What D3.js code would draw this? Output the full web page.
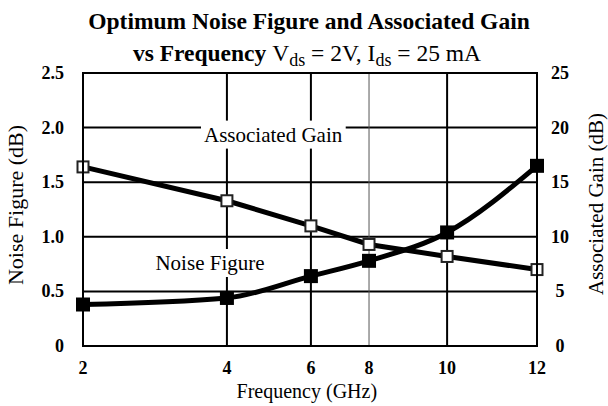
<!DOCTYPE html>
<html>
<head>
<meta charset="utf-8">
<script src="https://cdn.jsdelivr.net/npm/d3@7"></script>
<style>
  body { margin: 0; background: #fff; }
  svg { display: block; font-family: "Liberation Serif", "Times New Roman", serif; }
</style>
</head>
<body>
<div id="chart-area"></div>
<script>
// DATA -------------------------------------------------------------
var freqs = [2, 4, 6, 8, 10, 12];                       // GHz
var noiseFigure = [0.38, 0.44, 0.64, 0.78, 1.04, 1.65];  // dB, left axis
var assocGain = [16.4, 13.3, 11.0, 9.3, 8.2, 7.0];       // dB, right axis
var xTickLabels = ["2", "4", "6", "8", "10", "12"];
var nfTicks = [0, 0.5, 1.0, 1.5, 2.0, 2.5];
var nfTickLabels = ["0", "0.5", "1.0", "1.5", "2.0", "2.5"];
var gainTicks = [0, 5, 10, 15, 20, 25];
var gainTickLabels = ["0", "5", "10", "15", "20", "25"];

// LAYOUT -----------------------------------------------------------
var W = 608, H = 406;
var margin = { left: 83, right: 71, top: 73, bottom: 60 };
var width = W - margin.left - margin.right;
var height = H - margin.top - margin.bottom;
// the original sheet spaces the frequencies unevenly
var xStops = [0, 0.317, 0.502, 0.63, 0.802, 1];

var svg = d3.select("#chart-area").append("svg")
    .attr("width", W)
    .attr("height", H);
var g = svg.append("g")
    .attr("transform", "translate(" + margin.left + "," + margin.top + ")");

// SCALES -----------------------------------------------------------
var x = d3.scaleLinear()
    .domain(freqs)
    .range(xStops.map(function (f) { return f * width; }));
var yNF = d3.scaleLinear().domain([0, 2.5]).range([height, 0]);
var yGain = d3.scaleLinear().domain([0, 25]).range([height, 0]);

// TITLE ------------------------------------------------------------
svg.append("text")
    .attr("x", 309).attr("y", 29)
    .attr("text-anchor", "middle")
    .attr("font-size", "23.5px")
    .attr("font-weight", "bold")
    .text("Optimum Noise Figure and Associated Gain");

var t2 = svg.append("text")
    .attr("x", 307).attr("y", 61)
    .attr("text-anchor", "middle")
    .attr("font-size", "23.5px");
t2.append("tspan").attr("font-weight", "bold").text("vs Frequency ");
t2.append("tspan").text("V");
t2.append("tspan").attr("font-size", "18px").attr("dy", 5).text("ds");
t2.append("tspan").attr("dy", -5).text(" = 2V, I");
t2.append("tspan").attr("font-size", "18px").attr("dy", 5).text("ds");
t2.append("tspan").attr("dy", -5).text(" = 25 mA");

// GRID -------------------------------------------------------------
g.selectAll(".hgrid")
    .data(nfTicks.slice(1, -1))
    .enter().append("line")
    .attr("class", "hgrid")
    .attr("x1", 0).attr("x2", width)
    .attr("y1", function (d) { return yNF(d); })
    .attr("y2", function (d) { return yNF(d); })
    .attr("stroke", "#000").attr("stroke-width", 2);

g.selectAll(".vgrid")
    .data(freqs.slice(1, -1))
    .enter().append("line")
    .attr("class", "vgrid")
    .attr("x1", function (d) { return x(d); })
    .attr("x2", function (d) { return x(d); })
    .attr("y1", 0).attr("y2", height)
    .attr("stroke", function (d) { return d == 8 ? "#555" : "#000"; })
    .attr("stroke-width", function (d) { return d == 8 ? 1 : 2; });

// SERIES LABELS (white boxes hide the grid behind them) -----------
function seriesLabel(txt, cx, baseline) {
    var lab = g.append("g");
    var tx = lab.append("text")
        .attr("x", cx).attr("y", baseline)
        .attr("text-anchor", "middle")
        .attr("font-size", "21px")
        .text(txt);
    var bb = tx.node().getBBox();
    lab.insert("rect", "text")
        .attr("x", bb.x - 3).attr("y", bb.y - 2)
        .attr("width", bb.width + 6).attr("height", bb.height + 4)
        .attr("fill", "#fff");
}
seriesLabel("Associated Gain", x(5.1), yNF(2.0) + 14);
seriesLabel("Noise Figure", 210 - margin.left, 270 - margin.top);

// LINES ------------------------------------------------------------
var nfLine = d3.line()
    .x(function (d, i) { return x(freqs[i]); })
    .y(function (d) { return yNF(d); })
    .curve(d3.curveMonotoneX);
var gainLine = d3.line()
    .x(function (d, i) { return x(freqs[i]); })
    .y(function (d) { return yGain(d); });

g.append("path")
    .attr("d", gainLine(assocGain))
    .attr("fill", "none").attr("stroke", "#000").attr("stroke-width", 5);
g.append("path")
    .attr("d", nfLine(noiseFigure))
    .attr("fill", "none").attr("stroke", "#000").attr("stroke-width", 5);

// MARKERS ----------------------------------------------------------
g.selectAll(".gainPt")
    .data(assocGain)
    .enter().append("rect")
    .attr("class", "gainPt")
    .attr("x", function (d, i) { return x(freqs[i]) - 5.5; })
    .attr("y", function (d) { return yGain(d) - 5.5; })
    .attr("width", 11).attr("height", 11)
    .attr("fill", "#fff").attr("stroke", "#222").attr("stroke-width", 2);

g.selectAll(".nfPt")
    .data(noiseFigure)
    .enter().append("rect")
    .attr("class", "nfPt")
    .attr("x", function (d, i) { return x(freqs[i]) - 7; })
    .attr("y", function (d) { return yNF(d) - 7; })
    .attr("width", 14).attr("height", 14)
    .attr("fill", "#000");

// FRAME ------------------------------------------------------------
g.append("rect")
    .attr("x", 0).attr("y", 0)
    .attr("width", width).attr("height", height)
    .attr("fill", "none").attr("stroke", "#000").attr("stroke-width", 2);

// AXES LABELS ------------------------------------------------------
g.selectAll(".xt")
    .data(freqs)
    .enter().append("text")
    .attr("class", "xt")
    .attr("x", function (d) { return x(d); })
    .attr("y", height + 28)
    .attr("text-anchor", "middle")
    .attr("font-size", "18px").attr("font-weight", "bold")
    .text(function (d, i) { return xTickLabels[i]; });

g.selectAll(".yl")
    .data(nfTicks)
    .enter().append("text")
    .attr("class", "yl")
    .attr("x", -19)
    .attr("y", function (d) { return yNF(d) + 6; })
    .attr("text-anchor", "end")
    .attr("font-size", "18px").attr("font-weight", "bold")
    .text(function (d, i) { return nfTickLabels[i]; });

g.selectAll(".yr")
    .data(gainTicks)
    .enter().append("text")
    .attr("class", "yr")
    .attr("x", width + 23)
    .attr("y", function (d) { return yGain(d) + 6; })
    .attr("text-anchor", "middle")
    .attr("font-size", "18px").attr("font-weight", "bold")
    .text(function (d, i) { return gainTickLabels[i]; });

// AXIS TITLES ------------------------------------------------------
g.append("text")
    .attr("x", width * 0.493).attr("y", height + 52)
    .attr("text-anchor", "middle")
    .attr("font-size", "20px")
    .text("Frequency (GHz)");

g.append("text")
    .attr("transform", "translate(" + (-60) + "," + (132) + ") rotate(-90)")
    .attr("text-anchor", "middle")
    .attr("font-size", "22px")
    .text("Noise Figure (dB)");

g.append("text")
    .attr("transform", "translate(" + (width + 66) + "," + (131) + ") rotate(-90)")
    .attr("text-anchor", "middle")
    .attr("font-size", "21px")
    .text("Associated Gain (dB)");
</script>
</body>
</html>
